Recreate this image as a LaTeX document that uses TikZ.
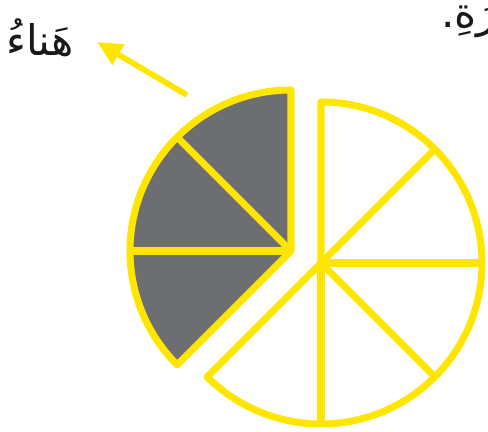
\documentclass[tikz,border=0pt]{standalone}
\usepackage{fontspec}
\newfontfamily\arabicfont[Script=Arabic]{DejaVu Sans}
\TeXXeTstate=1
\usetikzlibrary{arrows.meta}
\definecolor{lemon}{HTML}{FFE600}
\definecolor{slate}{HTML}{6D6E71}
\tikzset{
  rim/.style={draw=lemon,line width=4pt,line join=round},
  label/.style={font=\arabicfont\fontsize{24}{28}\selectfont,text=black!90}
}
\begin{document}
\begin{tikzpicture}[x=0.02cm,y=0.02cm,>=Triangle]
    \useasboundingbox (0,0) rectangle (488,432);
    % slice taken out
    \coordinate (cg) at (291,181);
    \filldraw[rim,fill=slate] (cg) -- ++(90:161) arc[start angle=90,end angle=225,radius=161] -- cycle;
    \foreach \a in {135,180}{
      \draw[rim] (cg) -- ++(\a:161);
    }
    % what is left
    \coordinate (cw) at (321,169);
    \draw[rim] (cw) -- ++(90:161) arc[start angle=90,end angle=-135,radius=161] -- cycle;
    \foreach \a in {45,0,-45,-90}{
      \draw[rim] (cw) -- ++(\a:161);
    }
    % pointer
    \coordinate (tail) at (187,337);
    \coordinate (tip) at (97,390);
    \draw[lemon,line width=3.3pt,-{Triangle[length=5mm,width=4.5mm]}] (tail) -- (tip);
    \node[label] (hana) at (40,394) {\beginR هَناءُ\endR};
    \node[label,anchor=west] (jumla) at (435,410) {\beginR رَةِ.\endR};
\end{tikzpicture}
\end{document}
